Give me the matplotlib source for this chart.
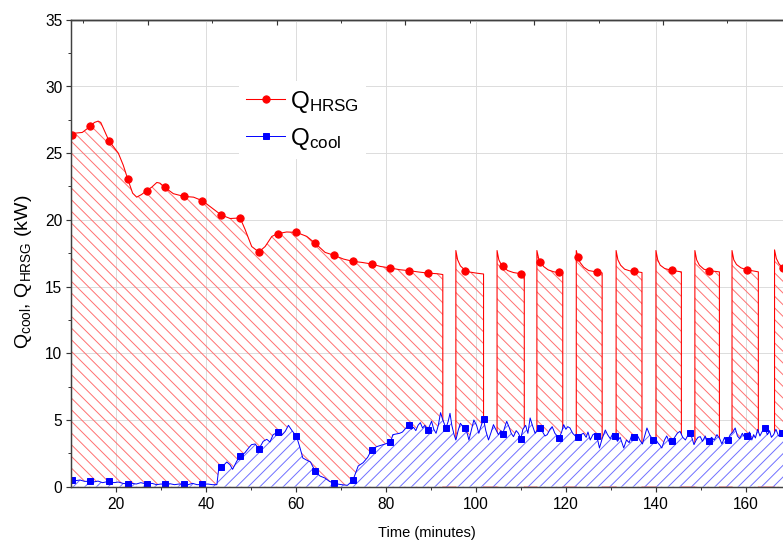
import numpy as np
import matplotlib
matplotlib.use('Agg')
import matplotlib.pyplot as plt

plt.rcParams['font.family'] = ['Liberation Sans', 'DejaVu Sans']
plt.rcParams['mathtext.fontset'] = 'custom'
plt.rcParams['mathtext.rm'] = 'Liberation Sans'
plt.rcParams['mathtext.it'] = 'Liberation Sans:italic'
plt.rcParams['mathtext.default'] = 'regular'
plt.rcParams['hatch.linewidth'] = 1.0

# Q_HRSG (kW) vs time (min)
hrsg_t = [10.0, 10.3, 11.0, 12.5, 14.24, 15.2, 16.03, 16.6, 18.42, 20.51, 21.6, 22.6,
          23.69, 24.59, 25.68, 26.77, 27.97, 29.06, 29.76, 30.85, 32.74, 35.03, 37.22,
          39.2, 41.29, 43.38, 45.37, 47.56, 48.65, 50.14, 51.73, 53.13, 54.62, 55.91,
          57.9, 60.09, 62.37, 64.26, 66.45, 68.44, 70.53, 72.62, 74.61, 76.79, 78.68,
          80.97, 83.06, 85.15, 87.23, 89.22, 91.41, 92.6, 92.6,
          95.5, 95.5, 95.9, 96.5, 97.6, 98.7, 100.2, 101.65, 101.65,
          104.65, 104.65, 105.05, 105.5, 105.9, 107.0, 108.3, 109.9, 110.7, 110.7,
          113.5, 113.5, 113.9, 114.3, 115.0, 116.0, 117.3, 118.45, 119.25, 119.25,
          122.25, 122.25, 122.65, 123.1, 123.9, 125.0, 126.8, 128.0, 128.0,
          131.1, 131.1, 131.5, 132.1, 133.0, 134.1, 135.15, 136.85, 136.85,
          139.95, 139.95, 140.35, 140.9, 141.9, 143.5, 145.6, 145.6,
          148.6, 148.6, 149.0, 149.6, 150.6, 151.75, 154.05, 154.05,
          156.85, 156.85, 157.25, 157.85, 158.85, 160.1, 162.7, 162.7,
          166.3, 166.3, 166.7, 167.3, 168.1, 169.0]
hrsg_q = [26.4, 26.38, 26.5, 26.55, 27.0, 27.3, 27.4, 27.3, 25.93, 25.0, 24.1, 23.06,
          22.0, 21.7, 21.9, 22.18, 22.46, 22.8, 22.75, 22.43, 21.96, 21.76, 21.7,
          21.43, 20.9, 20.36, 20.1, 20.14, 19.3, 18.0, 17.59, 18.0, 18.76, 18.96,
          19.09, 19.06, 18.76, 18.24, 17.56, 17.34, 17.06, 16.89, 16.81, 16.69, 16.51,
          16.39, 16.26, 16.19, 16.09, 16.01, 15.96, 15.9, 0.0,
          0.0, 17.7, 17.0, 16.55, 16.2, 16.08, 16.0, 15.94, 0.0,
          0.0, 17.7, 17.0, 16.7, 16.51, 16.2, 16.05, 15.96, 15.92, 0.0,
          0.0, 17.7, 17.1, 16.84, 16.5, 16.25, 16.1, 16.06, 16.0, 0.0,
          0.0, 17.7, 17.21, 16.8, 16.45, 16.2, 16.09, 16.02, 0.0,
          0.0, 17.7, 17.0, 16.6, 16.3, 16.18, 16.14, 16.05, 0.0,
          0.0, 17.7, 17.0, 16.6, 16.35, 16.21, 16.1, 0.0,
          0.0, 17.7, 17.0, 16.6, 16.3, 16.19, 16.1, 0.0,
          0.0, 17.7, 17.0, 16.65, 16.4, 16.26, 16.1, 0.0,
          0.0, 17.75, 17.1, 16.7, 16.4, 16.3]
hrsg_mark_t = [10.3, 14.24, 18.42, 22.6, 26.77, 30.85, 35.03, 39.2, 43.38, 47.56,
               51.73, 55.91, 60.09, 64.26, 68.44, 72.62, 76.79, 80.97, 85.15, 89.22,
               97.6, 105.9, 109.9, 114.3, 118.45, 122.65, 126.8, 135.15, 143.5,
               151.75, 160.1, 168.1]

# Q_cool (kW) vs time (min)
cool_t = [10.0, 10.3, 11.0, 12.0, 13.0, 14.24, 15.0, 16.0, 17.0, 18.42, 19.5, 20.5,
          21.5, 22.6, 23.5, 24.5, 25.5, 26.77, 28.0, 29.0, 30.0, 30.85, 32.0, 33.0,
          34.0, 35.03, 36.0, 37.0, 38.0, 39.2, 40.4, 41.4, 42.4, 42.8, 43.38, 43.9,
          44.6, 45.3, 45.9, 46.8, 47.56, 48.1, 48.65, 49.45, 50.1, 50.9, 51.73, 52.2,
          52.7, 53.5, 54.2, 54.9, 55.91, 56.8, 57.6, 58.3, 59.1, 60.09, 60.8, 61.5,
          62.3, 63.2, 64.26, 65.3, 66.4, 67.4, 68.44, 69.7, 71.4, 72.62, 73.8, 74.9,
          75.9, 76.79, 77.9, 79.3, 80.97, 81.5, 83.0, 83.65, 84.15, 84.65, 85.15,
          85.6, 86.1, 86.6, 87.1, 87.6, 88.1, 88.6, 89.22, 89.6, 90.1, 90.6, 91.1,
          91.6, 92.1, 92.6, 93.3, 93.8, 94.2, 94.6, 95.1, 95.5, 96.0, 96.5, 97.1,
          97.58, 98.1, 98.4, 99.0, 99.5, 100.1, 100.6, 101.05, 101.65, 102.15,
          102.75, 103.35, 103.85, 104.35, 104.95, 105.5, 105.93, 106.4, 106.8,
          107.4, 107.8, 108.3, 108.9, 109.4, 109.91, 110.4, 111.0, 111.5, 112.0,
          112.5, 113.1, 113.7, 114.28, 114.8, 115.3, 115.8, 116.4, 116.9, 117.5,
          118.0, 118.46, 119.0, 119.45, 119.95, 120.35, 120.85, 121.45, 122.05,
          122.64, 123.25, 123.85, 124.45, 124.85, 125.35, 125.95, 126.45, 126.81,
          127.4, 128.0, 128.7, 129.2, 129.8, 130.4, 130.89, 131.4, 132.0, 132.8,
          133.4, 134.0, 134.6, 135.17, 135.75, 136.35, 136.95, 137.45, 137.95,
          138.55, 139.24, 139.85, 140.35, 140.85, 141.25, 141.85, 142.35, 142.95,
          143.52, 144.1, 144.7, 145.3, 145.9, 146.5, 147.1, 147.6, 148.0, 148.4,
          148.9, 149.3, 149.8, 150.3, 150.9, 151.3, 151.77, 152.3, 152.9, 153.5,
          154.1, 154.6, 155.2, 155.55, 155.95, 156.45, 157.05, 157.55, 158.05,
          158.55, 159.15, 159.65, 160.13, 160.75, 161.25, 161.65, 162.05, 162.55,
          163.05, 163.65, 164.2, 164.7, 165.2, 165.6, 166.1, 166.6, 167.2, 167.88,
          168.5]
cool_q = [0.6, 0.52, 0.45, 0.5, 0.4, 0.4, 0.35, 0.42, 0.3, 0.4, 0.3, 0.35,
          0.25, 0.2, 0.25, 0.2, 0.3, 0.2, 0.25, 0.15, 0.2, 0.17, 0.22, 0.15,
          0.2, 0.17, 0.15, 0.25, 0.15, 0.17, 0.2, 0.15, 0.15, 1.3, 1.45, 1.6,
          1.85, 1.65, 1.3, 1.9, 2.32, 2.4, 2.55, 2.9, 3.15, 3.2, 2.85, 3.1,
          3.4, 3.55, 3.35, 3.9, 4.07, 3.85, 4.15, 4.6, 4.2, 3.77, 3.0, 2.15,
          2.0, 1.85, 1.15, 0.8, 0.65, 0.4, 0.25, 0.17, 0.1, 0.47, 1.55, 1.8,
          2.2, 2.77, 3.0, 3.15, 3.32, 3.9, 4.0, 4.1, 4.3, 4.5, 4.65,
          4.3, 4.45, 4.2, 4.6, 4.8, 4.4, 4.6, 4.22, 4.5, 4.9, 4.3, 4.0,
          4.6, 5.55, 5.0, 4.4, 4.9, 5.5, 4.6, 3.9, 3.5, 4.2, 4.75, 4.5,
          4.4, 3.9, 3.5, 4.3, 5.0, 4.6, 4.0, 4.5, 5.07, 4.2,
          3.5, 4.1, 4.65, 4.3, 3.9, 4.2, 3.97, 4.5, 4.9,
          4.4, 4.0, 3.75, 4.2, 4.0, 3.6, 4.3, 4.6, 4.0, 5.15,
          4.6, 4.0, 4.3, 4.4, 4.1, 3.8, 3.9, 4.3, 4.5, 4.0,
          3.8, 3.65, 4.1, 4.65, 4.3, 4.5, 4.4, 4.0, 3.8,
          3.72, 3.9, 4.0, 3.7, 4.1, 3.5, 3.9, 4.0, 3.82,
          2.9, 3.6, 4.25, 3.9, 3.6, 4.0, 3.77, 3.4, 3.7, 2.9,
          3.5, 3.3, 3.9, 3.72, 3.9, 3.5, 3.2, 3.8, 4.4,
          3.9, 3.52, 3.6, 3.3, 3.1, 2.9, 3.5, 3.8, 3.3,
          3.4, 3.7, 4.0, 4.15, 3.7, 3.5, 3.9, 4.02, 3.6, 3.15,
          3.5, 3.7, 3.75, 3.4, 3.8, 3.3, 3.45, 3.7, 3.5, 3.9,
          3.6, 3.2, 3.7, 3.3, 3.52, 3.9, 4.1, 4.4, 3.8,
          3.6, 4.0, 3.7, 3.82, 4.1, 3.5, 3.9, 3.65, 4.3,
          3.8, 4.2, 4.4, 3.9, 4.2, 3.7, 3.9, 4.3, 3.8, 4.02,
          4.2]
cool_mark_t = [10.3, 14.24, 18.42, 22.6, 26.77, 30.85, 35.03, 39.2, 43.38, 47.56,
               51.73, 55.91, 60.09, 64.26, 68.44, 72.62, 76.79, 80.97, 85.15, 89.22,
               93.3, 97.58, 101.65, 105.93, 109.91, 114.28, 118.46, 122.64, 126.81,
               130.89, 135.17, 139.24, 143.52, 147.6, 151.77, 155.95, 160.13, 164.2,
               167.88]

x_major = [20, 40, 60, 80, 100, 120, 140, 160]
x_minor = [30, 50, 70, 90, 110, 130, 150]
y_major = [0, 5, 10, 15, 20, 25, 30, 35]
y_minor = [2.5, 7.5, 12.5, 17.5, 22.5, 27.5, 32.5]
top_major = [27.0, 55.7, 84.3, 112.9, 141.5]
top_minor = [12.7, 41.4, 70.0, 98.6, 127.2, 155.8]

hrsg_idx = np.where(np.isin(hrsg_t, hrsg_mark_t))[0].tolist()
cool_idx = np.where(np.isin(cool_t, cool_mark_t))[0].tolist()

fig = plt.figure(figsize=(783.2 / 70, 542.2 / 70), dpi=70)
ax = fig.add_axes([71 / 783, 55.3 / 542, 712 / 783, 466.8 / 542])

# hatched areas: red under Q_HRSG, blue (opaque) under Q_cool
plt.rcParams['hatch.color'] = '#ff7070'
ax.fill_between(hrsg_t, 0, hrsg_q, facecolor='none', edgecolor='#ff7070',
                hatch='\\\\', linewidth=0, zorder=1)
l1, = ax.plot(hrsg_t, hrsg_q, color='red', lw=1.1, marker='o', ms=7.5,
              markevery=hrsg_idx, zorder=2, label='Q$_{HRSG}$')
plt.rcParams['hatch.color'] = '#7070ff'
ax.fill_between(cool_t, 0, cool_q, facecolor='white', edgecolor='#7070ff',
                hatch='//', linewidth=0, zorder=3)
l2, = ax.plot(cool_t, cool_q, color='blue', lw=1.0, marker='s', ms=6.5,
              markevery=cool_idx, zorder=4, label='Q$_{cool}$')

ax.set_xlim(10, 10 + 712 / 4.5)
ax.set_ylim(0, 35)
ax.set_xticks(x_major)
ax.set_xticks(x_minor, minor=True)
ax.set_yticks(y_major)
ax.set_yticks(y_minor, minor=True)
ax.grid(True, which='major', color='#dcdcdc', lw=1.0, zorder=0)
ax.set_axisbelow(True)

ax.tick_params(which='major', direction='out', length=5, width=1.2,
               labelsize=16, pad=4, color='#333333')
ax.tick_params(which='minor', direction='out', length=3, width=1.0, color='#333333')
ax.tick_params(axis='x', pad=5)
for side in ['left', 'bottom', 'top']:
    ax.spines[side].set_color('#404040')
    ax.spines[side].set_linewidth(1.5)
    ax.spines[side].set_zorder(5)
ax.spines['right'].set_visible(False)

top = ax.secondary_xaxis('top')
top.set_xticks(top_major)
top.set_xticks(top_minor, minor=True)
top.tick_params(which='major', direction='in', length=5, width=1.2,
                labeltop=False, color='#333333')
top.tick_params(which='minor', direction='in', length=3, width=1.0, color='#333333')
top.spines['top'].set_color('#404040')
top.spines['top'].set_linewidth(1.5)

ax.set_xlabel('Time (minutes)', fontsize=15, labelpad=15)
ax.set_ylabel('Q$_{cool}$, Q$_{HRSG}$ (kW)', fontsize=20)
ax.yaxis.set_label_coords(-0.052, 0.46)

ax.legend(handles=[l1, l2], loc='upper left', bbox_to_anchor=(0.236, 0.868),
          borderaxespad=0, fontsize=25, frameon=True, facecolor='white',
          edgecolor='none', framealpha=1, fancybox=False, borderpad=0.3,
          handlelength=1.6, handletextpad=0.2, labelspacing=0.45)

fig.savefig('out.png', dpi=70)
